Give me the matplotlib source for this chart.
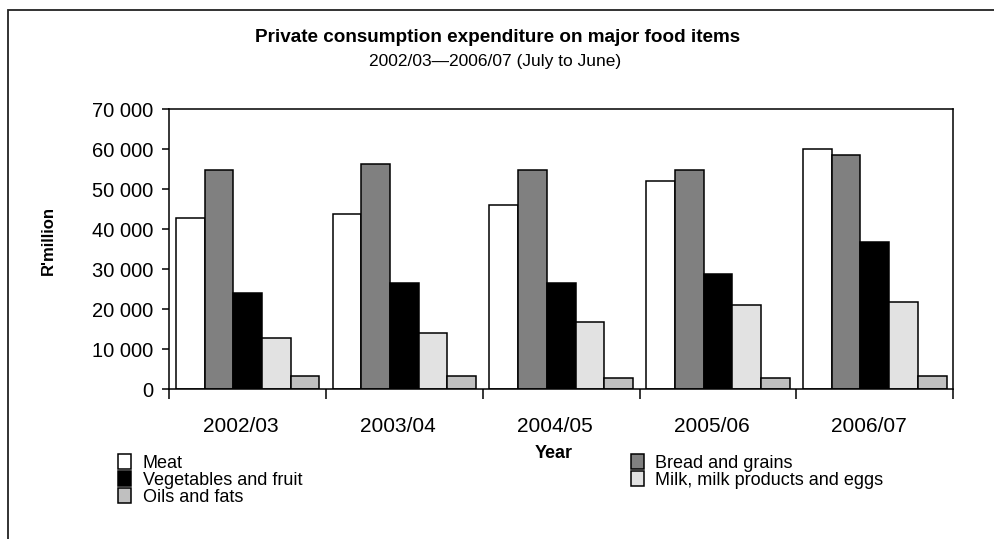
import matplotlib
matplotlib.use('Agg')
import matplotlib.pyplot as plt
import numpy as np
from matplotlib.patches import Rectangle, Patch
from matplotlib.ticker import FuncFormatter, FixedLocator

years = ['2002/03', '2003/04', '2004/05', '2005/06', '2006/07']
meat = [42800, 43800, 46000, 52100, 60100]
bread = [54750, 56400, 54750, 54750, 58600]
veg = [24000, 26600, 26600, 28800, 36900]
milk = [12900, 14000, 16750, 21100, 21700]
oils = [3200, 3200, 2700, 2700, 3200]

series = [('Meat', meat, 'white'),
          ('Bread and grains', bread, '#808080'),
          ('Vegetables and fruit', veg, 'black'),
          ('Milk, milk products and eggs', milk, '#e2e2e2'),
          ('Oils and fats', oils, '#c0c0c0')]

plt.rcParams['font.family'] = ['Liberation Sans', 'DejaVu Sans']

fig = plt.figure(figsize=(9.95, 5.39), dpi=100)
ax = fig.add_axes([0.170, 0.278, 0.788, 0.519])

x = np.arange(len(years))
w = 0.183
handles = {}
for i, (name, vals, col) in enumerate(series):
    off = (i - 2) * w
    ax.bar(x + off, vals, width=w, color=col, edgecolor='black', linewidth=1.1)
    handles[name] = Patch(facecolor=col, edgecolor='black', linewidth=1.1)

ax.set_xlim(-0.5, len(years) - 0.5)
ax.set_ylim(0, 70000)
ax.set_yticks(np.arange(0, 70001, 10000))
ax.yaxis.set_major_formatter(FuncFormatter(lambda v, p: '{:,}'.format(int(v)).replace(',', ' ')))
ax.set_xticks(x - 0.04)
ax.set_xticklabels(years)
ax.xaxis.set_minor_locator(FixedLocator(np.arange(-0.5, len(years), 1.0)))
ax.tick_params(axis='x', which='major', length=0, labelsize=15, pad=20)
ax.tick_params(axis='x', which='minor', length=7, width=1.1, direction='out')
ax.tick_params(axis='y', length=5, width=1.1, labelsize=14.5, pad=6.5)
for s in ax.spines.values():
    s.set_linewidth(1.1)

ax.set_ylabel("R'million", fontsize=12, fontweight='bold')
ax.yaxis.set_label_coords(-0.145, 0.53)
ax.set_xlabel('Year', fontsize=13, fontweight='bold')
ax.xaxis.set_label_coords(0.49, -0.20)

fig.text(0.5, 0.931, 'Private consumption expenditure on major food items',
         ha='center', va='center', fontsize=13.6, fontweight='bold')
fig.text(0.498, 0.885, '2002/03\u20142006/07 (July to June)',
         ha='center', va='center', fontsize=12.5)

order = ['Meat', 'Vegetables and fruit', 'Oils and fats',
         'Bread and grains', 'Milk, milk products and eggs']
fig.legend([handles[n] for n in order], order, ncol=2, frameon=False,
           loc='upper left', bbox_to_anchor=(0.119, 0.157),
           fontsize=13, handlelength=0.7, handleheight=0.9,
           handletextpad=0.65, labelspacing=-0.05, columnspacing=18.2,
           borderpad=0, borderaxespad=0)

# outer frame
fig.patches.append(Rectangle((8 / 995, -0.1), 1.2, 1 - 10 / 539 + 0.1,
                             transform=fig.transFigure, fill=False,
                             edgecolor='#222222', linewidth=1.3))

fig.savefig('out.png', dpi=100)
